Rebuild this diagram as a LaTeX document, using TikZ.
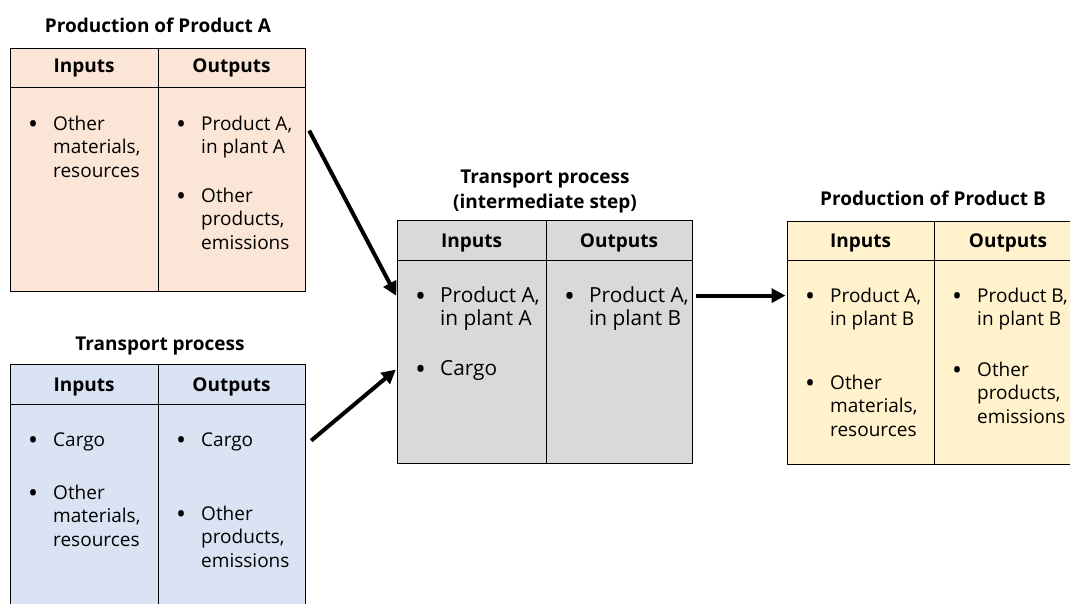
\documentclass[tikz,border=0pt]{standalone}
\usepackage{fontspec}
\setmainfont{Open Sans}
\usetikzlibrary{arrows.meta}
\usetikzlibrary{positioning}
\tikzset{box/.style = {draw, line width = 1.2pt, inner sep = 0, anchor = north west,
                       minimum width = 295pt}}
\tikzset{sep/.style = {line width = 1pt}}
\tikzset{head/.style = {anchor = base, inner sep = 0, font = \bfseries\fontsize{19}{23.5}\selectfont}}
\tikzset{ttl/.style = {anchor = base, inner sep = 0, align = center,
                       font = \bfseries\fontsize{19}{25}\selectfont}}
\tikzset{lst/.style = {anchor = base west, inner sep = 0, font = \fontsize{19}{23.5}\selectfont}}
\tikzset{lstM/.style = {lst, font = \fontsize{20.8}{23.5}\selectfont}}
\tikzset{flow/.style = {line width = 4pt, shorten > = 1.5pt,
                        -{Triangle[length = 14pt, width = 14pt]}}}
\definecolor{mpeach}{HTML}{FBE5D6}
\definecolor{mblue}{HTML}{DAE3F3}
\definecolor{mgray}{HTML}{D9D9D9}
\definecolor{myellow}{HTML}{FFF2CC}
\newcommand{\blt}[1]{\begin{tabular}[t]{@{}p{25pt}@{}l@{}}\raisebox{-0.2em}{\scalebox{1.4}{\textbullet}} &
  \begin{tabular}[t]{@{}l@{}}#1\end{tabular}\end{tabular}}

\begin{document}
\begin{tikzpicture}[x = 1pt, y = -1pt]
    \useasboundingbox (0, 0) rectangle (1070, 603);

    % boxes
    \node [box, fill = mpeach, minimum height = 243pt] (prodA) at (10, 48) {};
    \node [box, fill = mblue, minimum height = 281pt] (trnT) at (10, 364) {};
    \node [box, fill = mgray, minimum height = 243pt] (trnM) at (397, 220) {};
    \node [box, fill = myellow, minimum height = 243pt] (prodB) at (787, 221) {};

    \foreach \b/\d/\h in {prodA/148/39, trnT/148/40, trnM/149/40, prodB/147/39} {
      \draw [sep] ([xshift = \d pt]\b.north west) -- ([xshift = \d pt]\b.south west);
      \draw [sep] ([yshift = -\h pt]\b.north west) -- ([yshift = -\h pt]\b.north east);
    }

    % titles
    \node [ttl] (ttlA) at (158, 32) {Production of Product A};
    \node [ttl] (ttlT) at (160, 350) {Transport process};
    \node [ttl] (ttlM) at (545, 208) {Transport process\\(intermediate step)};
    \node [ttl] (ttlB) at (933, 205) {Production of Product B};

    % column heads
    \node [head] (inA) at (84, 72) {Inputs};
    \node [head] (outA) at (231.5, 72) {Outputs};
    \node [head] (inT) at (84, 391) {Inputs};
    \node [head] (outT) at (231.5, 391) {Outputs};
    \node [head] (inM) at (471.5, 247) {Inputs};
    \node [head] (outM) at (619, 247) {Outputs};
    \node [head] (inB) at (860.5, 247) {Inputs};
    \node [head] (outB) at (1008, 247) {Outputs};

    % items
    \node [lst] (aIn1) at (28, 130) {\blt{Other\\materials,\\resources}};
    \node [lst] (aOut1) at (176, 130) {\blt{Product A,\\in plant A}};
    \node [lst] (aOut2) at (176, 202) {\blt{Other\\products,\\emissions}};

    \node [lst] (tIn1) at (28, 446) {\blt{Cargo}};
    \node [lst] (tIn2) at (28, 499) {\blt{Other\\materials,\\resources}};
    \node [lst] (tOut1) at (176, 446) {\blt{Cargo}};
    \node [lst] (tOut2) at (176, 520) {\blt{Other\\products,\\emissions}};

    \node [lstM] (mIn1) at (415, 302) {\blt{Product A,\\in plant A}};
    \node [lstM] (mIn2) at (415, 375) {\blt{Cargo}};
    \node [lstM] (mOut1) at (564, 302) {\blt{Product A,\\in plant B}};

    \node [lst] (bIn1) at (805, 302) {\blt{Product A,\\in plant B}};
    \node [lst] (bIn2) at (805, 389) {\blt{Other\\materials,\\resources}};
    \node [lst] (bOut1) at (952, 302) {\blt{Product B,\\in plant B}};
    \node [lst] (bOut2) at (952, 376) {\blt{Other\\products,\\emissions}};

    % flows
    \draw [flow] ([xshift = 3pt, yshift = 39.5pt]prodA.east) -- ([yshift = 45pt]trnM.west);
    \draw [flow] ([xshift = 5pt, yshift = 64.5pt]trnT.east) -- ([yshift = -26.5pt]trnM.west);
    \draw [flow] ([xshift = 3pt, yshift = 46.5pt]trnM.east) -- ([yshift = 47.5pt]prodB.west);
  \end{tikzpicture}
\end{document}
